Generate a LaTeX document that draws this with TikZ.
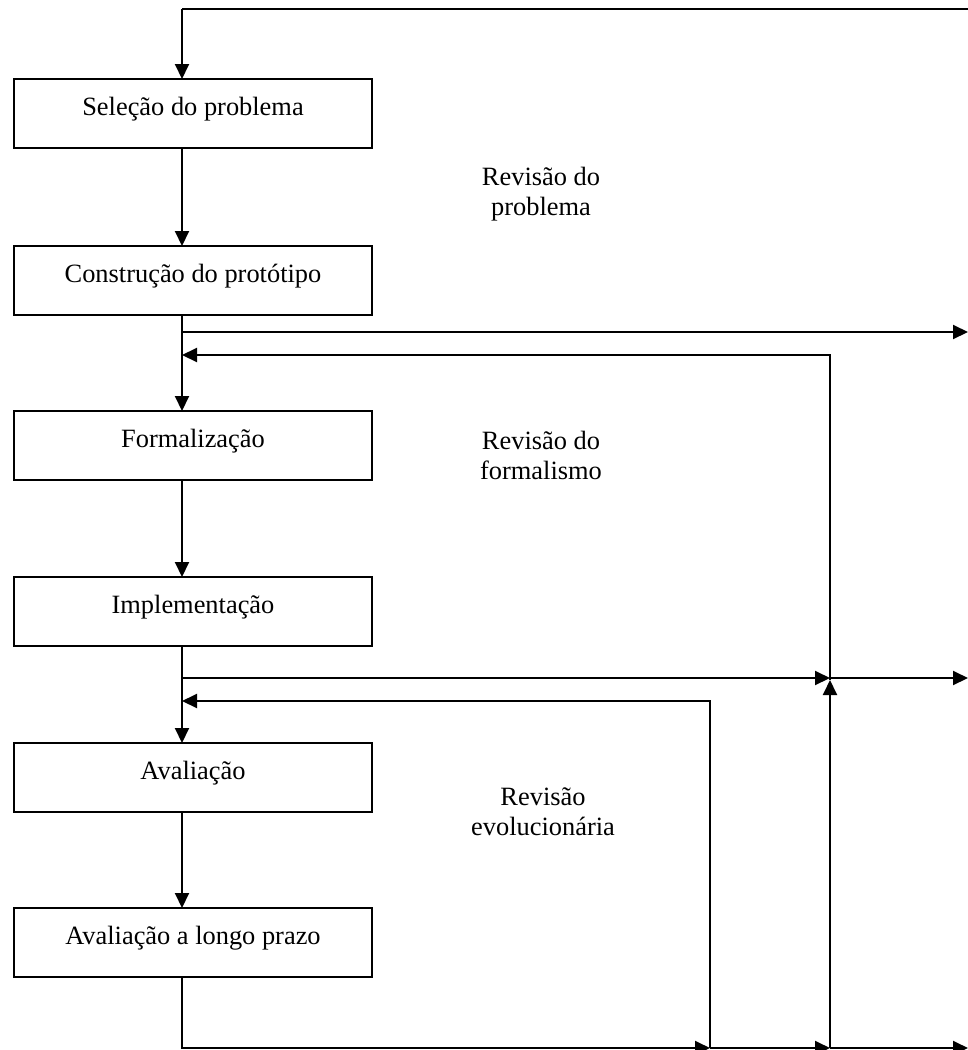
\documentclass[tikz,border=0pt]{standalone}
\usepackage{fontspec}
\setmainfont{Liberation Serif}
\usetikzlibrary{arrows.meta}
\begin{document}
\begin{tikzpicture}[x=1pt,y=-1pt,
  line width=2pt,
  stage/.style={draw, line width=2pt, inner sep=0pt, outer sep=0pt,
    minimum width=358pt, text height=36pt, text depth=33pt,
    anchor=north west, font=\fontsize{26.4}{30}\selectfont},
  note/.style={align=center, inner sep=0pt, anchor=base,
    font=\fontsize{26.4}{30}\selectfont},
  flow/.style={-{Triangle[length=15pt,width=14pt]}}]
\useasboundingbox (0,0) rectangle (968,1050);

% stages of the process
\node[stage] (b1) at (14,79)  {Seleção do problema};
\node[stage] (b2) at (14,246) {Construção do protótipo};
\node[stage] (b3) at (14,411) {Formalização};
\node[stage] (b4) at (14,577) {Implementação};
\node[stage] (b5) at (14,743) {Avaliação};
\node[stage] (b6) at (14,908) {Avaliação a longo prazo};

% revision labels (placed by the baseline of their last line)
\node[note] (n1) at (541,215) {Revisão do\\problema};
\node[note] (n2) at (541,479) {Revisão do\\formalismo};
\node[note] (n3) at (543,835) {Revisão\\evolucionária};

% routing points
\coordinate (top)  at (182,9);
\coordinate (topR) at (972,9);
\coordinate (o1)   at (182,332);
\coordinate (o1e)  at (968,332);
\coordinate (r1)   at (830,355);
\coordinate (r1e)  at (182,355);
\coordinate (o2)   at (182,678);
\coordinate (m)    at (830,678);
\coordinate (mt)   at (830,680);
\coordinate (o2e)  at (968,678);
\coordinate (r2b)  at (710,1048);
\coordinate (r2)   at (710,701);
\coordinate (r2e)  at (182,701);
\coordinate (bl)   at (182,1048);
\coordinate (r1b)  at (830,1048);
\coordinate (be)   at (968,1048);

% main column
\draw (topR) -- (top);
\draw[flow] (top) -- (b1.north -| top);
\draw[flow] (b1.south -| top) -- (b2.north -| top);
\draw[flow] (b2.south -| top) -- (b3.north -| top);
\draw[flow] (b3.south -| top) -- (b4.north -| top);
\draw[flow] (b4.south -| top) -- (b5.north -| top);
\draw[flow] (b5.south -| top) -- (b6.north -| top);

% outgoing branches
\draw[flow] (o1) -- (o1e);
\draw[flow] (o2) -- (m);
\draw[flow] (m) -- (o2e);

% bottom line
\draw[flow] (b6.south -| top) -- (bl) -- (r2b);
\draw[flow] (r2b) -- (r1b);
\draw[flow] (r1b) -- (be);

% return paths
\draw[flow] (r2b) -- (r2) -- (r2e);
\draw[flow] (r1b) -- (mt);
\draw[flow] (mt) -- (r1) -- (r1e);
\end{tikzpicture}
\end{document}
